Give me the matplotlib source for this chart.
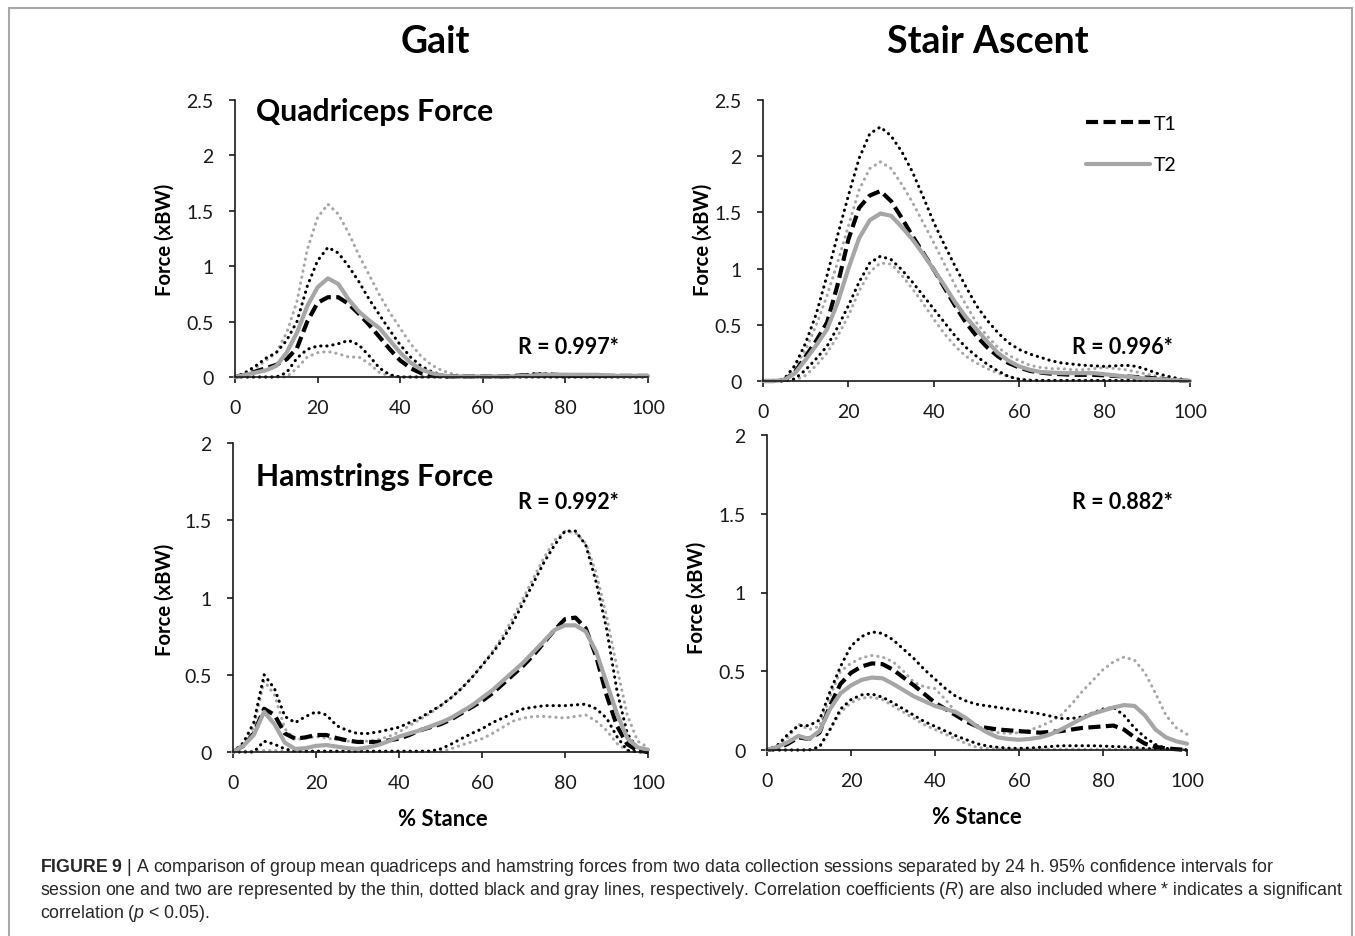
import matplotlib
matplotlib.use('Agg')
import matplotlib.pyplot as plt
from matplotlib.patches import Rectangle

plt.rcParams['font.family'] = ['Lato', 'DejaVu Sans']
plt.rcParams['mathtext.fontset'] = 'custom'
plt.rcParams['mathtext.rm'] = 'Liberation Sans'
plt.rcParams['mathtext.it'] = 'Liberation Sans:italic'
plt.rcParams['mathtext.bf'] = 'Liberation Sans:bold'

# ---------------- data ----------------
stance_pct = [0, 2.5, 5, 7.5, 10, 12.5, 15, 17.5, 20, 22.5, 25, 27.5, 30, 32.5, 35, 37.5, 40,
              42.5, 45, 47.5, 50, 52.5, 55, 57.5, 60, 62.5, 65, 67.5, 70, 72.5, 75, 77.5, 80,
              82.5, 85, 87.5, 90, 92.5, 95, 97.5, 100]

# Gait - quadriceps
gait_quad_t1 = [0, 0.02, 0.05, 0.08, 0.11, 0.16, 0.26, 0.5, 0.67, 0.72, 0.72, 0.66, 0.57, 0.47, 0.36, 0.25, 0.15, 0.08, 0.035, 0.015, 0.005,
                0.005, 0.005, 0.005, 0.005, 0.005, 0.005, 0.01, 0.015, 0.02, 0.02, 0.02, 0.015, 0.01, 0.01, 0.01, 0.01, 0.01, 0.01, 0.01, 0.01]
gait_quad_t2 = [0, 0.02, 0.04, 0.06, 0.1, 0.22, 0.4, 0.64, 0.81, 0.89, 0.84, 0.7, 0.59, 0.51, 0.44, 0.33, 0.22, 0.13, 0.07, 0.035, 0.015,
                0.005, 0.005, 0.005, 0.005, 0.005, 0.005, 0.005, 0.01, 0.015, 0.02, 0.02, 0.02, 0.02, 0.02, 0.02, 0.015, 0.01, 0.01, 0.01, 0.01]
gait_quad_t1_hi = [0, 0.04, 0.1, 0.17, 0.22, 0.33, 0.5, 0.82, 1.05, 1.17, 1.12, 1.0, 0.86, 0.7, 0.56, 0.42, 0.29, 0.18, 0.1, 0.05, 0.02,
                   0.01, 0.005, 0.005, 0.005, 0.005, 0.005, 0.01, 0.02, 0.03, 0.03, 0.025, 0.02, 0.015, 0.01, 0.01, 0.01, 0.01, 0.01, 0.01, 0.01]
gait_quad_t1_lo = [0, 0, 0, 0, 0, 0.04, 0.17, 0.25, 0.28, 0.28, 0.3, 0.33, 0.29, 0.19, 0.08, 0.02, 0, 0, 0, 0, 0,
                   0, 0, 0, 0, 0, 0, 0, 0, 0, 0, 0, 0, 0, 0, 0, 0, 0, 0, 0, 0]
gait_quad_t2_hi = [0, 0.03, 0.08, 0.15, 0.22, 0.4, 0.68, 1.15, 1.44, 1.56, 1.47, 1.3, 1.1, 0.92, 0.74, 0.58, 0.44, 0.3, 0.19, 0.11, 0.06,
                   0.03, 0.01, 0.005, 0.005, 0.005, 0.005, 0.005, 0.01, 0.015, 0.02, 0.025, 0.025, 0.025, 0.02, 0.015, 0.01, 0.01, 0.01, 0.01, 0.01]
gait_quad_t2_lo = [0, 0, 0, 0, 0, 0, 0.08, 0.18, 0.22, 0.23, 0.21, 0.18, 0.18, 0.12, 0.04, 0.01, 0, 0, 0, 0, 0,
                   0, 0, 0, 0, 0, 0, 0, 0, 0, 0, 0, 0, 0, 0, 0, 0, 0, 0, 0, 0]

# Stair ascent - quadriceps
stair_quad_t1 = [0, 0, 0.01, 0.08, 0.22, 0.36, 0.52, 0.86, 1.26, 1.54, 1.65, 1.69, 1.6, 1.45, 1.29, 1.14, 0.99, 0.83, 0.67, 0.52, 0.4,
                 0.3, 0.22, 0.16, 0.12, 0.09, 0.075, 0.065, 0.06, 0.055, 0.055, 0.055, 0.05, 0.045, 0.04, 0.035, 0.03, 0.02, 0.01, 0.005, 0]
stair_quad_t2 = [0, 0, 0.01, 0.07, 0.19, 0.32, 0.46, 0.7, 1.0, 1.27, 1.43, 1.49, 1.47, 1.37, 1.26, 1.13, 0.99, 0.85, 0.7, 0.57, 0.46,
                 0.35, 0.25, 0.18, 0.13, 0.1, 0.08, 0.075, 0.07, 0.07, 0.07, 0.07, 0.06, 0.05, 0.04, 0.03, 0.02, 0.015, 0.01, 0.005, 0]
stair_quad_t1_hi = [0, 0, 0.02, 0.14, 0.34, 0.6, 0.94, 1.3, 1.65, 1.98, 2.2, 2.26, 2.18, 2.04, 1.86, 1.64, 1.41, 1.21, 1.02, 0.84, 0.67,
                    0.54, 0.43, 0.34, 0.28, 0.24, 0.21, 0.18, 0.16, 0.15, 0.14, 0.135, 0.13, 0.135, 0.14, 0.13, 0.1, 0.065, 0.04, 0.02, 0]
stair_quad_t1_lo = [0, 0, 0, 0.02, 0.1, 0.2, 0.31, 0.48, 0.67, 0.88, 1.05, 1.11, 1.08, 0.99, 0.88, 0.76, 0.64, 0.52, 0.4, 0.3, 0.22,
                    0.15, 0.09, 0.04, 0.015, 0.005, 0.005, 0.005, 0.005, 0.005, 0.005, 0.005, 0.005, 0.005, 0.005, 0.005, 0.005, 0.005, 0.005, 0.005, 0]
stair_quad_t2_hi = [0, 0, 0.02, 0.12, 0.28, 0.5, 0.76, 1.06, 1.38, 1.7, 1.89, 1.95, 1.89, 1.75, 1.59, 1.41, 1.23, 1.04, 0.85, 0.68, 0.52,
                    0.4, 0.3, 0.23, 0.18, 0.14, 0.12, 0.11, 0.11, 0.1, 0.1, 0.11, 0.12, 0.11, 0.1, 0.08, 0.06, 0.04, 0.02, 0.01, 0]
stair_quad_t2_lo = [0, 0, 0, 0.01, 0.05, 0.14, 0.25, 0.4, 0.58, 0.8, 0.97, 1.05, 1.04, 0.94, 0.82, 0.69, 0.55, 0.42, 0.31, 0.22, 0.16,
                    0.11, 0.07, 0.04, 0.02, 0.01, 0.005, 0.005, 0.005, 0.005, 0.005, 0.005, 0.005, 0.005, 0.005, 0.005, 0.005, 0.005, 0.005, 0.005, 0]

# Gait - hamstrings
gait_ham_t1 = [0, 0.04, 0.12, 0.28, 0.24, 0.12, 0.086, 0.095, 0.11, 0.11, 0.09, 0.075, 0.065, 0.065, 0.065, 0.075, 0.086, 0.11, 0.14, 0.16, 0.18,
               0.21, 0.25, 0.29, 0.33, 0.38, 0.44, 0.5, 0.56, 0.63, 0.71, 0.79, 0.86, 0.87, 0.8, 0.62, 0.37, 0.17, 0.05, 0.01, 0]
gait_ham_t2 = [0, 0.04, 0.11, 0.26, 0.18, 0.06, 0.02, 0.025, 0.04, 0.045, 0.035, 0.025, 0.02, 0.03, 0.045, 0.07, 0.1, 0.12, 0.14, 0.165, 0.19,
               0.22, 0.26, 0.3, 0.35, 0.4, 0.46, 0.52, 0.58, 0.65, 0.72, 0.79, 0.82, 0.82, 0.78, 0.65, 0.45, 0.25, 0.09, 0.03, 0.015]
gait_ham_t1_hi = [0, 0.06, 0.19, 0.5, 0.41, 0.23, 0.19, 0.23, 0.26, 0.24, 0.17, 0.14, 0.12, 0.12, 0.13, 0.145, 0.16, 0.19, 0.22, 0.26, 0.3,
                  0.35, 0.41, 0.48, 0.56, 0.64, 0.73, 0.84, 0.97, 1.1, 1.23, 1.34, 1.43, 1.43, 1.34, 1.1, 0.8, 0.4, 0.12, 0.02, 0]
gait_ham_t1_lo = [0, 0, 0, 0.07, 0.05, 0.02, 0.005, 0.005, 0.005, 0.005, 0.005, 0.005, 0.005, 0.005, 0.005, 0.005, 0.005, 0.005, 0.005, 0.005, 0.02,
                  0.05, 0.086, 0.12, 0.15, 0.19, 0.22, 0.25, 0.28, 0.29, 0.3, 0.3, 0.3, 0.305, 0.31, 0.28, 0.22, 0.1, 0.01, 0, 0]
gait_ham_t2_hi = [0, 0.05, 0.16, 0.46, 0.37, 0.15, 0.08, 0.09, 0.1, 0.09, 0.08, 0.07, 0.07, 0.07, 0.08, 0.1, 0.13, 0.17, 0.21, 0.25, 0.3,
                  0.35, 0.41, 0.48, 0.56, 0.65, 0.75, 0.87, 1.0, 1.13, 1.26, 1.37, 1.43, 1.42, 1.35, 1.16, 0.88, 0.55, 0.24, 0.07, 0.03]
gait_ham_t2_lo = [0, 0.005, 0.005, 0.01, 0.01, 0.005, 0.005, 0.005, 0.005, 0.005, 0.005, 0.005, 0.005, 0.005, 0.005, 0.005, 0.005, 0.005, 0.005, 0.005, 0.005,
                  0.02, 0.045, 0.065, 0.086, 0.12, 0.16, 0.2, 0.22, 0.23, 0.23, 0.225, 0.22, 0.23, 0.24, 0.2, 0.14, 0.055, 0.01, 0, 0]

# Stair ascent - hamstrings
stair_ham_t1 = [0, 0.01, 0.04, 0.08, 0.07, 0.11, 0.28, 0.42, 0.49, 0.53, 0.55, 0.545, 0.51, 0.46, 0.41, 0.355, 0.3, 0.26, 0.22, 0.18, 0.15,
                0.14, 0.13, 0.125, 0.12, 0.115, 0.11, 0.115, 0.12, 0.13, 0.14, 0.145, 0.15, 0.155, 0.13, 0.08, 0.04, 0.02, 0.01, 0.005, 0]
stair_ham_t2 = [0, 0.02, 0.05, 0.09, 0.07, 0.12, 0.26, 0.36, 0.41, 0.445, 0.46, 0.455, 0.42, 0.38, 0.34, 0.31, 0.28, 0.26, 0.24, 0.2, 0.15,
                0.11, 0.08, 0.07, 0.065, 0.07, 0.08, 0.1, 0.13, 0.165, 0.2, 0.23, 0.25, 0.27, 0.285, 0.28, 0.22, 0.13, 0.08, 0.055, 0.04]
stair_ham_t1_hi = [0, 0.03, 0.1, 0.155, 0.155, 0.19, 0.37, 0.53, 0.66, 0.72, 0.75, 0.74, 0.7, 0.64, 0.58, 0.51, 0.45, 0.39, 0.34, 0.31, 0.29,
                   0.28, 0.27, 0.26, 0.25, 0.24, 0.23, 0.215, 0.2, 0.2, 0.21, 0.235, 0.26, 0.27, 0.22, 0.14, 0.08, 0.035, 0.01, 0.005, 0]
stair_ham_t1_lo = [0, 0, 0, 0, 0, 0.02, 0.13, 0.26, 0.32, 0.35, 0.355, 0.335, 0.3, 0.26, 0.22, 0.18, 0.15, 0.12, 0.09, 0.065, 0.04,
                   0.025, 0.017, 0.012, 0.01, 0.012, 0.017, 0.022, 0.027, 0.027, 0.027, 0.027, 0.025, 0.022, 0.02, 0.015, 0.01, 0.007, 0.005, 0.003, 0]
stair_ham_t2_hi = [0, 0.03, 0.08, 0.165, 0.13, 0.15, 0.34, 0.5, 0.55, 0.585, 0.6, 0.59, 0.56, 0.5, 0.43, 0.4, 0.39, 0.32, 0.24, 0.19, 0.15,
                   0.13, 0.11, 0.105, 0.11, 0.125, 0.15, 0.18, 0.22, 0.29, 0.37, 0.44, 0.51, 0.56, 0.59, 0.57, 0.49, 0.36, 0.22, 0.14, 0.1]
stair_ham_t2_lo = [0, 0, 0, 0, 0, 0.02, 0.13, 0.24, 0.3, 0.33, 0.335, 0.32, 0.28, 0.24, 0.2, 0.16, 0.13, 0.1, 0.07, 0.04, 0.017,
                   0.01, 0.005, 0.005, 0.005, 0.005, 0.005, 0.005, 0.005, 0.005, 0.005, 0.005, 0.005, 0.005, 0.005, 0.005, 0.005, 0.005, 0.005, 0.005, 0.005]

x_ticks = [0, 20, 40, 60, 80, 100]
x_tick_labels = ['0', '20', '40', '60', '80', '100']
y_ticks_quad = [0, 0.5, 1, 1.5, 2, 2.5]
y_tick_labels_quad = ['0', '0.5', '1', '1.5', '2', '2.5']
y_ticks_ham = [0, 0.5, 1, 1.5, 2]
y_tick_labels_ham = ['0', '0.5', '1', '1.5', '2']

column_titles = ['Gait', 'Stair Ascent']
row_titles = ['Quadriceps Force', 'Hamstrings Force']
r_labels = ['R = 0.997*', 'R = 0.996*', 'R = 0.992*', 'R = 0.882*']
series_labels = ['T1', 'T2']

caption_lines = [
    r'$\bf{FIGURE\ 9}$ | A comparison of group mean quadriceps and hamstring forces from two data collection sessions separated by 24 h. 95% confidence intervals for',
    r'session one and two are represented by the thin, dotted black and gray lines, respectively. Correlation coefficients ($\it{R}$) are also included where * indicates a significant',
    r'correlation ($\it{p}$ < 0.05).',
]

# ---------------- figure ----------------
W, H = 1355, 937
fig = plt.figure(figsize=(W / 100, H / 100), dpi=100)


def fx(px):
    return px / W


def fy(py):
    return 1 - py / H


def add_panel(l, r, t, b):
    return fig.add_axes([fx(l), fy(b), fx(r) - fx(l), fy(t) - fy(b)])


BLACK = '#000000'
GRAY = '#a6a6a6'
DOT = (0, (0.1, 1.9))
DASH = (0, (2.9, 1.3))

panels = [
    (add_panel(235, 648, 101, 378), y_ticks_quad, y_tick_labels_quad,
     (gait_quad_t1, gait_quad_t2, gait_quad_t1_hi, gait_quad_t1_lo, gait_quad_t2_hi, gait_quad_t2_lo)),
    (add_panel(763, 1190, 101, 382), y_ticks_quad, y_tick_labels_quad,
     (stair_quad_t1, stair_quad_t2, stair_quad_t1_hi, stair_quad_t1_lo, stair_quad_t2_hi, stair_quad_t2_lo)),
    (add_panel(233, 648, 444, 753), y_ticks_ham, y_tick_labels_ham,
     (gait_ham_t1, gait_ham_t2, gait_ham_t1_hi, gait_ham_t1_lo, gait_ham_t2_hi, gait_ham_t2_lo)),
    (add_panel(767, 1187, 436, 751), y_ticks_ham, y_tick_labels_ham,
     (stair_ham_t1, stair_ham_t2, stair_ham_t1_hi, stair_ham_t1_lo, stair_ham_t2_hi, stair_ham_t2_lo)),
]

legend_handles = None
for ax, yt, ytl, (m1, m2, h1, l1, h2, l2) in panels:
    for s in (h2, l2):
        ax.plot(stance_pct, s, color=GRAY, lw=2.2, linestyle=DOT, dash_capstyle='round', clip_on=False)
    for s in (h1, l1):
        ax.plot(stance_pct, s, color=BLACK, lw=2.2, linestyle=DOT, dash_capstyle='round', clip_on=False)
    ln1, = ax.plot(stance_pct, m1, color=BLACK, lw=3.0, linestyle=DASH, clip_on=False)
    ln2, = ax.plot(stance_pct, m2, color=GRAY, lw=3.0, solid_capstyle='round', clip_on=False)
    if legend_handles is None:
        legend_handles = (ln1, ln2)
    ax.set_xlim(0, 100)
    ax.set_ylim(yt[0], yt[-1])
    ax.set_xticks(x_ticks)
    ax.set_xticklabels(x_tick_labels)
    ax.set_yticks(yt)
    ax.set_yticklabels(ytl)
    for sp in ('top', 'right'):
        ax.spines[sp].set_visible(False)
    for sp in ('left', 'bottom'):
        ax.spines[sp].set_linewidth(1.2)
        ax.spines[sp].set_color('#1a1a1a')
    ax.tick_params(direction='out', length=4.5, width=1.2, color='#1a1a1a',
                   labelsize=14, labelcolor='#1a1a1a', pad=11)
    ax.set_facecolor('none')

# legend in top-right panel
panels[1][0].legend(legend_handles, series_labels, loc='upper left', bbox_to_anchor=(0.757, 0.948),
                    frameon=False, fontsize=14, handlelength=3.3, handletextpad=0.15,
                    labelspacing=1.27, borderpad=0, borderaxespad=0)

# column titles
fig.text(fx(435), fy(42), column_titles[0], ha='center', va='center', fontsize=27, fontweight='bold')
fig.text(fx(988), fy(42), column_titles[1], ha='center', va='center', fontsize=27, fontweight='bold')

# row titles
fig.text(fx(256), fy(112), row_titles[0], ha='left', va='center', fontsize=21.7, fontweight='bold')
fig.text(fx(256), fy(477), row_titles[1], ha='left', va='center', fontsize=21.7, fontweight='bold')

# R values
r_pos = [(518, 348), (1072, 348), (518, 503), (1072, 503)]
for (x, y), lab in zip(r_pos, r_labels):
    fig.text(fx(x), fy(y), lab, ha='left', va='center', fontsize=15.5, fontweight='bold')

# axis labels
for x, y in [(165, 240), (703, 240), (165, 600), (697, 598)]:
    fig.text(fx(x), fy(y), 'Force (xBW)', ha='center', va='center', rotation=90, fontsize=14.6, fontweight='bold')
for x, y in [(443, 820), (977, 818)]:
    fig.text(fx(x), fy(y), '% Stance', ha='center', va='center', fontsize=15.8, fontweight='bold')

# caption
for i, line in enumerate(caption_lines):
    fig.text(fx(40), fy(868 + 23 * i), line, ha='left', va='center', fontsize=12.8,
             color='#262626', family=['Liberation Sans', 'DejaVu Sans'])

# border
fig.patches.append(Rectangle((fx(9), -0.02), fx(1352) - fx(9), fy(9) + 0.02, transform=fig.transFigure,
                             fill=False, edgecolor='#a8a8a8', lw=1.5))

fig.savefig('out.png', dpi=100)
